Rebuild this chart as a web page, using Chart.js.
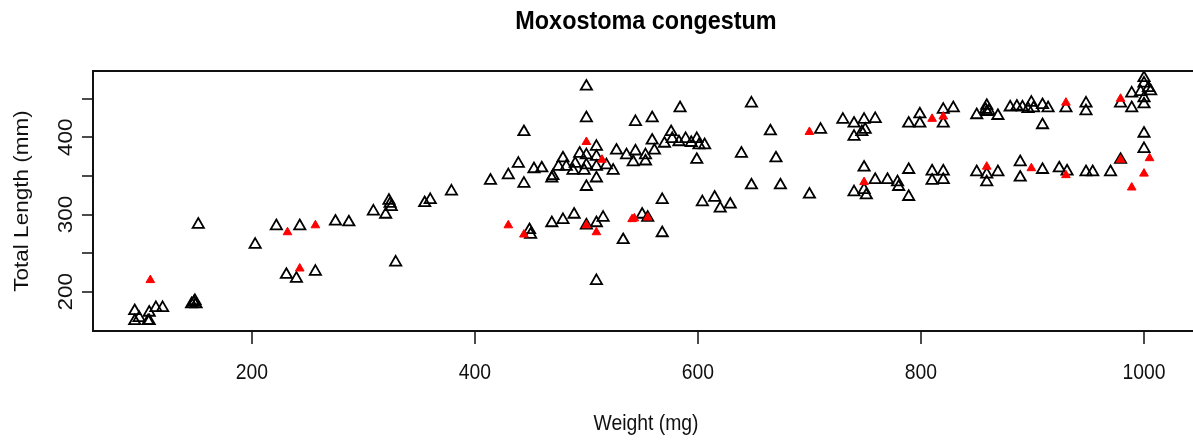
<!DOCTYPE html>
<html>
<head>
<meta charset="utf-8">
<script src="https://cdn.jsdelivr.net/npm/chart.js@4/dist/chart.umd.min.js"></script>
<style>
  body { margin: 0; background: #fff; }
</style>
</head>
<body>
<canvas id="myChart" width="1193" height="443"></canvas>
<script>
// open triangles (black outline)
const openWeight = [
  95, 95, 99, 108, 108, 107, 114, 120,
  146, 148, 149, 150,
  152, 203, 222, 243, 231, 240, 257, 275, 287, 309, 320, 323, 324, 325, 329,
  355, 360, 379, 414, 430, 439, 444, 444, 453, 460, 469,
  500, 500, 500, 509, 544, 559, 584, 648, 665, 639, 670, 648, 674, 599,
  604, 615, 620, 629, 568, 568, 533, 509,
  449, 450, 469, 479, 489, 500, 509, 515, 550, 555,
  509, 509, 494, 479, 490, 500, 500, 488, 498, 509, 524, 518, 470, 475, 482,
  527, 536, 544, 542, 553, 553, 561, 559, 570, 576, 577, 583, 589, 594, 599, 601, 606,
  710, 730, 740, 749, 759, 740, 747, 750, 789, 799, 799, 820, 820, 829,
  850, 859, 859, 858, 861, 869,
  880, 886, 891, 896, 899, 901, 909, 914, 909, 930, 948, 948, 979, 989, 989,
  1000, 1000, 1004, 1006, 1000, 1000, 997, 1000, 1000, 979,
  700, 749, 740, 749, 751, 759, 770, 779, 780, 789, 789, 810, 820, 810, 820,
  850, 859, 859, 869, 889, 889, 909, 924, 931, 948, 954, 970
];
const openLength = [
  175, 162, 166, 173, 162, 162, 179, 179,
  184, 186, 188, 184,
  287, 261, 285, 285, 222, 217, 226, 291, 290, 304, 300, 318, 314, 310, 238,
  315, 319, 330, 344, 351, 366, 407, 340, 359, 360, 347,
  466, 425, 336, 347, 420, 425, 438, 444, 408, 379, 373, 338, 338, 371,
  316, 322, 308, 313, 319, 276, 267, 214,
  280, 274, 289, 293, 300, 286, 289, 296, 300, 296,
  388, 375, 379, 373, 366, 377, 364, 357, 357, 362, 357, 364, 350, 362, 362,
  383, 377, 382, 368, 377, 369, 383, 396, 392, 407, 398, 394, 398, 393, 398, 390, 390,
  410, 423, 418, 423, 424, 401, 407, 410, 418, 430, 418, 436, 418, 438,
  429, 441, 433, 436, 434, 428,
  439, 440, 439, 437, 445, 438, 442, 438, 416, 438, 444, 434, 444, 457, 438,
  477, 470, 464, 460, 451, 443, 459, 405, 385, 371,
  326, 361, 329, 332, 325, 345, 345, 342, 336, 358, 323, 356, 356, 344, 345,
  355, 352, 342, 355, 368, 348, 358, 360, 356, 355, 355, 355
];

// filled red triangles
const redWeight = [109, 232, 257, 243, 430, 444, 500, 514, 500, 509, 541, 543, 555,
  700, 810, 820, 930, 979, 1005, 1000, 989, 979, 749, 859, 899, 930];
const redLength = [215, 277, 286, 230, 286, 274, 394, 371, 286, 277, 294, 295, 296,
  407, 424, 427, 445, 450, 373, 353, 335, 371, 342, 362, 360, 351];

const xTickValues = [200, 400, 600, 800, 1000];
const xTickLabels = ['200', '400', '600', '800', '1000'];
const yTickValues = [200, 250, 300, 350, 400, 450];
const yTickLabels = ['200', '', '300', '', '400', ''];

const toPoints = (xs, ys) => xs.map((x, i) => ({ x: x, y: ys[i] }));

// draws the R style box, ticks and squeezed text
const rAxes = {
  id: 'rAxes',
  afterDraw(chart) {
    const ctx = chart.ctx;
    const a = chart.chartArea;
    const xs = chart.scales.x;
    const ys = chart.scales.y;
    const ink = '#111';
    const sx = 0.86;

    function text(str, x, y, font, angle) {
      ctx.save();
      ctx.translate(x, y);
      ctx.scale(sx, 1);
      ctx.rotate(angle || 0);
      ctx.font = font;
      ctx.fillStyle = ink;
      ctx.textAlign = 'center';
      ctx.textBaseline = 'alphabetic';
      ctx.fillText(str, 0, 0);
      ctx.restore();
    }

    ctx.save();
    ctx.strokeStyle = ink;
    ctx.lineWidth = 2;
    ctx.beginPath();
    ctx.moveTo(chart.width, a.top);
    ctx.lineTo(a.left, a.top);
    ctx.lineTo(a.left, a.bottom);
    ctx.lineTo(chart.width, a.bottom);
    ctx.stroke();

    ctx.lineWidth = 1.5;
    ctx.beginPath();
    xs.ticks.forEach(t => {
      const px = Math.round(xs.getPixelForValue(t.value));
      ctx.moveTo(px, a.bottom);
      ctx.lineTo(px, a.bottom + 13);
    });
    ys.ticks.forEach(t => {
      const py = Math.round(ys.getPixelForValue(t.value));
      ctx.moveTo(a.left, py);
      ctx.lineTo(a.left - 11, py);
    });
    ctx.stroke();
    ctx.restore();

    const lab = '22.5px "Liberation Sans", Arial, sans-serif';
    xs.ticks.forEach((t, i) => {
      text(xTickLabels[i], xs.getPixelForValue(t.value), 379, lab);
    });
    ys.ticks.forEach((t, i) => {
      if (yTickLabels[i]) text(yTickLabels[i], 72, ys.getPixelForValue(t.value), lab, -Math.PI / 2);
    });

    const cx = 646;
    ctx.save();
    ctx.translate(cx, 29);
    ctx.scale(0.9, 1);
    ctx.font = 'bold 26px "Liberation Sans", Arial, sans-serif';
    ctx.fillStyle = '#000';
    ctx.textAlign = 'center';
    ctx.fillText('Moxostoma congestum', 0, 0);
    ctx.restore();

    text('Weight (mg)', cx, 430, lab);
    text('Total Length (mm)', 28, (a.top + a.bottom) / 2, lab, -Math.PI / 2);
  }
};

const ctx1 = document.getElementById('myChart');

new Chart(ctx1, {
  type: 'scatter',
  data: {
    datasets: [{
      label: 'red',
      data: toPoints(redWeight, redLength),
      pointStyle: 'triangle',
      pointRadius: 5,
      backgroundColor: '#ff0000',
      borderColor: '#ff0000',
      borderWidth: 1
    }, {
      label: 'open',
      data: toPoints(openWeight, openLength),
      pointStyle: 'triangle',
      pointRadius: 6.5,
      backgroundColor: 'rgba(0,0,0,0)',
      borderColor: '#000',
      borderWidth: 1.8
    }]
  },
  options: {
    responsive: false,
    animation: false,
    layout: {
      padding: { left: 93, top: 71, right: 0, bottom: 112 }
    },
    plugins: {
      legend: { display: false },
      tooltip: { enabled: false }
    },
    scales: {
      x: {
        type: 'linear',
        display: false,
        min: 57.6,
        max: 1036.5,
        afterBuildTicks: s => { s.ticks = xTickValues.map(v => ({ value: v })); }
      },
      y: {
        type: 'linear',
        display: false,
        min: 149,
        max: 486,
        afterBuildTicks: s => { s.ticks = yTickValues.map(v => ({ value: v })); }
      }
    }
  },
  plugins: [rAxes]
});
</script>
</body>
</html>
